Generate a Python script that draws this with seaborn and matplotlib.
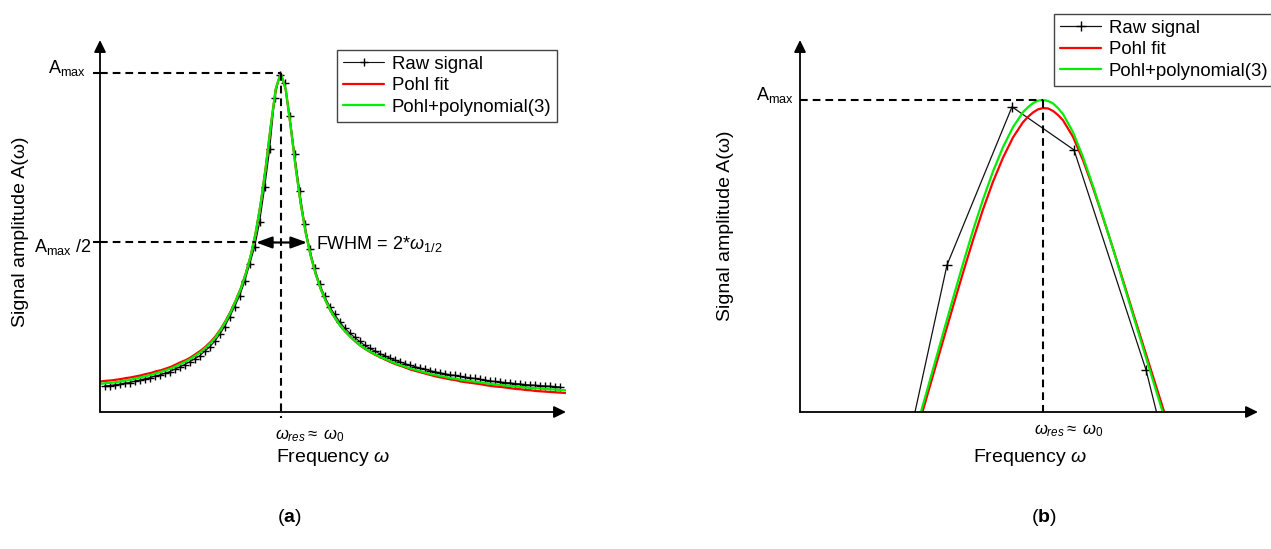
import matplotlib
matplotlib.use("Agg")
import matplotlib.pyplot as plt
import seaborn as sns

# panel (a): full resonance curve, amplitude relative to A_max
freq_fit_a = [0.64, 0.65, 0.66, 0.67, 0.68, 0.69, 0.70, 0.71, 0.72, 0.73,
              0.74, 0.75, 0.76, 0.77, 0.78, 0.79, 0.80, 0.81, 0.82, 0.83,
              0.84, 0.85, 0.86, 0.87, 0.88, 0.89, 0.90, 0.91, 0.92, 0.93,
              0.94, 0.95, 0.96, 0.97, 0.98, 0.99, 1.00, 1.01, 1.02, 1.03,
              1.04, 1.05, 1.06, 1.07, 1.08, 1.09, 1.10, 1.11, 1.12, 1.13,
              1.14, 1.15, 1.16, 1.17, 1.18, 1.19, 1.20, 1.21, 1.22, 1.23,
              1.24, 1.25, 1.26, 1.27, 1.28, 1.29, 1.30, 1.31, 1.32, 1.33,
              1.34, 1.35, 1.36, 1.37, 1.38, 1.39, 1.40, 1.41, 1.42, 1.43,
              1.44, 1.45, 1.46, 1.47, 1.48, 1.49, 1.50, 1.51, 1.52, 1.53,
              1.54, 1.55, 1.56, 1.57]
pohl_a = [0.090, 0.092, 0.093, 0.095, 0.097, 0.100, 0.102, 0.105, 0.108, 0.112,
          0.115, 0.120, 0.123, 0.128, 0.133, 0.140, 0.147, 0.153, 0.161, 0.171,
          0.181, 0.193, 0.207, 0.224, 0.245, 0.269, 0.297, 0.329, 0.364, 0.408,
          0.461, 0.529, 0.615, 0.721, 0.842, 0.952, 1.000, 0.952, 0.842, 0.721,
          0.615, 0.529, 0.461, 0.407, 0.363, 0.328, 0.298, 0.274, 0.253, 0.236,
          0.221, 0.207, 0.195, 0.185, 0.176, 0.168, 0.161, 0.154, 0.147, 0.141,
          0.136, 0.131, 0.125, 0.121, 0.117, 0.113, 0.109, 0.105, 0.102, 0.099,
          0.096, 0.094, 0.090, 0.088, 0.086, 0.084, 0.082, 0.079, 0.077, 0.075,
          0.074, 0.072, 0.070, 0.068, 0.067, 0.065, 0.064, 0.062, 0.061, 0.060,
          0.059, 0.058, 0.057, 0.056]
poly_a = [0.083, 0.085, 0.086, 0.088, 0.090, 0.093, 0.095, 0.099, 0.102, 0.106,
          0.109, 0.114, 0.118, 0.123, 0.128, 0.135, 0.142, 0.149, 0.157, 0.167,
          0.177, 0.190, 0.204, 0.221, 0.243, 0.267, 0.295, 0.328, 0.363, 0.407,
          0.461, 0.529, 0.615, 0.721, 0.842, 0.952, 1.000, 0.952, 0.842, 0.721,
          0.615, 0.529, 0.461, 0.407, 0.363, 0.328, 0.298, 0.274, 0.253, 0.236,
          0.221, 0.208, 0.196, 0.186, 0.177, 0.169, 0.162, 0.156, 0.149, 0.143,
          0.138, 0.133, 0.128, 0.124, 0.120, 0.116, 0.112, 0.109, 0.106, 0.103,
          0.100, 0.098, 0.095, 0.093, 0.091, 0.089, 0.087, 0.085, 0.083, 0.081,
          0.080, 0.078, 0.077, 0.075, 0.074, 0.072, 0.071, 0.070, 0.069, 0.068,
          0.067, 0.066, 0.065, 0.064]
freq_raw_a = [0.648, 0.658, 0.668, 0.678, 0.688, 0.698, 0.708, 0.718, 0.728, 0.738,
              0.748, 0.758, 0.768, 0.778, 0.788, 0.798, 0.808, 0.818, 0.828, 0.838,
              0.848, 0.858, 0.868, 0.878, 0.888, 0.898, 0.908, 0.918, 0.928, 0.938,
              0.948, 0.958, 0.968, 0.978, 0.988, 0.998, 1.008, 1.018, 1.028, 1.038,
              1.048, 1.058, 1.068, 1.078, 1.088, 1.098, 1.108, 1.118, 1.128, 1.138,
              1.148, 1.158, 1.168, 1.178, 1.188, 1.198, 1.208, 1.218, 1.228, 1.238,
              1.248, 1.258, 1.268, 1.278, 1.288, 1.298, 1.308, 1.318, 1.328, 1.338,
              1.348, 1.358, 1.368, 1.378, 1.388, 1.398, 1.408, 1.418, 1.428, 1.438,
              1.448, 1.458, 1.468, 1.478, 1.488, 1.498, 1.508, 1.518, 1.528, 1.538,
              1.548, 1.558]
raw_a = [0.077, 0.078, 0.080, 0.082, 0.085, 0.087, 0.091, 0.094, 0.098, 0.101,
         0.106, 0.109, 0.114, 0.119, 0.126, 0.133, 0.140, 0.148, 0.157, 0.166,
         0.179, 0.192, 0.208, 0.229, 0.252, 0.280, 0.311, 0.343, 0.385, 0.436,
         0.487, 0.561, 0.663, 0.775, 0.925, 0.995, 0.970, 0.873, 0.760, 0.652,
         0.554, 0.481, 0.424, 0.378, 0.342, 0.311, 0.288, 0.266, 0.248, 0.233,
         0.220, 0.208, 0.197, 0.188, 0.180, 0.172, 0.166, 0.159, 0.153, 0.148,
         0.143, 0.138, 0.134, 0.130, 0.126, 0.122, 0.119, 0.116, 0.113, 0.110,
         0.108, 0.105, 0.103, 0.101, 0.099, 0.097, 0.094, 0.092, 0.090, 0.089,
         0.087, 0.086, 0.084, 0.083, 0.081, 0.080, 0.079, 0.078, 0.077, 0.076,
         0.075, 0.074]

# panel (b): zoom on the top of the peak
freq_fit_b = [0.948, 0.952, 0.956, 0.960, 0.964, 0.968, 0.972, 0.976, 0.980,
              0.984, 0.988, 0.992, 0.994, 0.996, 0.998, 1.000, 1.002, 1.004,
              1.006, 1.008, 1.012, 1.016, 1.020, 1.024, 1.028, 1.032, 1.036,
              1.040, 1.044, 1.048, 1.052]
pohl_b = [-0.104, 0.006, 0.117, 0.228, 0.338, 0.446, 0.551, 0.649, 0.738,
          0.815, 0.880, 0.929, 0.946, 0.960, 0.970, 0.974, 0.973, 0.965,
          0.952, 0.935, 0.882, 0.807, 0.719, 0.623, 0.524, 0.422, 0.318,
          0.216, 0.114, 0.012, -0.088]
poly_b = [-0.090, 0.023, 0.137, 0.251, 0.364, 0.475, 0.582, 0.681, 0.771,
          0.849, 0.913, 0.961, 0.977, 0.990, 0.998, 1.000, 0.997, 0.989,
          0.974, 0.955, 0.897, 0.817, 0.724, 0.625, 0.523, 0.417, 0.311,
          0.206, 0.101, -0.003, -0.105]
freq_raw_b = [0.936, 0.9616, 0.9876, 1.0124, 1.0412, 1.0684]
raw_b = [-0.471, 0.471, 0.978, 0.840, 0.135, -0.740]

W, H = 1271, 549

sns.set_theme(style="white")
plt.rcParams["font.family"] = ["Liberation Sans", "DejaVu Sans"]
plt.rcParams["mathtext.fontset"] = "custom"
plt.rcParams["mathtext.rm"] = "Liberation Sans"
plt.rcParams["mathtext.it"] = "Liberation Sans:italic"
plt.rcParams["mathtext.bf"] = "Liberation Sans:bold"
plt.rcParams["text.color"] = "black"
plt.rcParams["axes.labelcolor"] = "black"


def px(x, y):
    return x / W, 1 - y / H


fig = plt.figure(figsize=(W / 100, H / 100), dpi=100)
ax_a = fig.add_axes([100 / W, 137 / H, 466 / W, 372 / H])
ax_b = fig.add_axes([800 / W, 137 / H, 458 / W, 372 / H])

dash = (0, (3.7, 2.4))


def draw_axes(ax):
    for s in ax.spines.values():
        s.set_visible(False)
    ax.set_xticks([])
    ax.set_xlabel("")
    ax.set_ylabel("")
    arrow = dict(arrowstyle="-|>,head_length=0.45,head_width=0.22",
                 color="black", lw=1.3, shrinkA=0, shrinkB=0, mutation_scale=16)
    ax.annotate("", xy=(1, 0), xytext=(0, 0), xycoords="axes fraction",
                arrowprops=arrow, annotation_clip=False)
    ax.annotate("", xy=(0, 1), xytext=(0, 0), xycoords="axes fraction",
                arrowprops=arrow, annotation_clip=False)


def draw_lines(ax, fx, pohl, poly, rx, raw, ms, raw_lw):
    sns.lineplot(x=rx, y=raw, ax=ax, color="#111111", lw=raw_lw, marker="+",
                 markersize=ms, mew=1.0, mec="#000000", mfc="none",
                 estimator=None, sort=False, label="Raw signal")
    sns.lineplot(x=fx, y=pohl, ax=ax, color="#ff0000", lw=1.6,
                 estimator=None, sort=False, label="Pohl fit")
    sns.lineplot(x=fx, y=poly, ax=ax, color="#00ee00", lw=1.6,
                 estimator=None, sort=False, label="Pohl+polynomial(3)")


def legend(ax, x, y):
    leg = ax.legend(loc="upper left", bbox_to_anchor=px(x, y),
                    bbox_transform=fig.transFigure, frameon=True, fancybox=False,
                    edgecolor="#444444", framealpha=1, fontsize=13.4,
                    handlelength=2.25, handletextpad=0.4, labelspacing=0.25,
                    borderpad=0.3, borderaxespad=0)
    leg.get_frame().set_linewidth(1.0)
    for t in leg.get_texts():
        t.set_color("black")


# ---- (a)
draw_lines(ax_a, freq_fit_a, pohl_a, poly_a, freq_raw_a, raw_a, 5.5, 0.8)
ax_a.set_xlim(0.6386, 1.5706)
ax_a.set_ylim(0, 1.0973)
draw_axes(ax_a)
ax_a.set_yticks([0.5, 1.0])
ax_a.set_yticklabels(["", ""])
ax_a.tick_params(axis="y", left=True, direction="out", length=5, width=1.5,
                 color="black")

ax_a.plot([0.6386, 1.0], [1.0, 1.0], ls=dash, lw=1.5, color="black", zorder=4)
ax_a.plot([0.6386, 0.9506], [0.5, 0.5], ls=dash, lw=1.5, color="black", zorder=4)
ax_a.plot([1.0, 1.0], [1.0, -0.018], ls=dash, lw=1.5, color="black", zorder=4,
          clip_on=False)
ax_a.annotate("", xy=(0.9506, 0.5), xytext=(1.0526, 0.5),
              arrowprops=dict(arrowstyle="<|-|>,head_length=0.6,head_width=0.22",
                              color="black", lw=1.6, shrinkA=0, shrinkB=0,
                              mutation_scale=16), zorder=5)
legend(ax_a, 337, 50)

fig.text(*px(86, 68), r"A$_\mathrm{max}$", ha="right", va="center", fontsize=13)
fig.text(*px(92, 247), r"A$_\mathrm{max}$ /2", ha="right", va="center", fontsize=13)
fig.text(*px(316, 244), r"FWHM = 2$*\omega_{1/2}$", ha="left", va="center",
         fontsize=13)
fig.text(*px(275, 436), r"$\omega_{res}\approx\ \omega_0$", ha="left",
         va="center", fontsize=12)
fig.text(*px(333, 458), r"Frequency $\omega$", ha="center", va="center",
         fontsize=14)
fig.text(*px(21, 232), "Signal amplitude A(ω)", rotation=90, ha="center",
         va="center", fontsize=14)
fig.text(*px(289, 517), r"($\mathbf{a}$)", ha="center", va="center", fontsize=14)

# ---- (b)
draw_lines(ax_b, freq_fit_b, pohl_b, poly_b, freq_raw_b, raw_b, 6.5, 0.9)
ax_b.set_xlim(0.9028, 1.086)
ax_b.set_ylim(0, 1.1923)
draw_axes(ax_b)
ax_b.set_yticks([])

ax_b.plot([0.9028, 1.0], [1.0, 1.0], ls=dash, lw=1.5, color="black", zorder=4)
ax_b.plot([1.0, 1.0], [1.0, 0.0], ls=dash, lw=1.5, color="black", zorder=4)
legend(ax_b, 1054, 14)

fig.text(*px(794, 95), r"A$_\mathrm{max}$", ha="right", va="center", fontsize=13)
fig.text(*px(1034, 431), r"$\omega_{res}\approx\ \omega_0$", ha="left",
         va="center", fontsize=12)
fig.text(*px(1030, 458), r"Frequency $\omega$", ha="center", va="center",
         fontsize=14)
fig.text(*px(726, 226), "Signal amplitude A(ω)", rotation=90, ha="center",
         va="center", fontsize=14)
fig.text(*px(1044, 517), r"($\mathbf{b}$)", ha="center", va="center", fontsize=14)

fig.savefig("out.png", dpi=100)
